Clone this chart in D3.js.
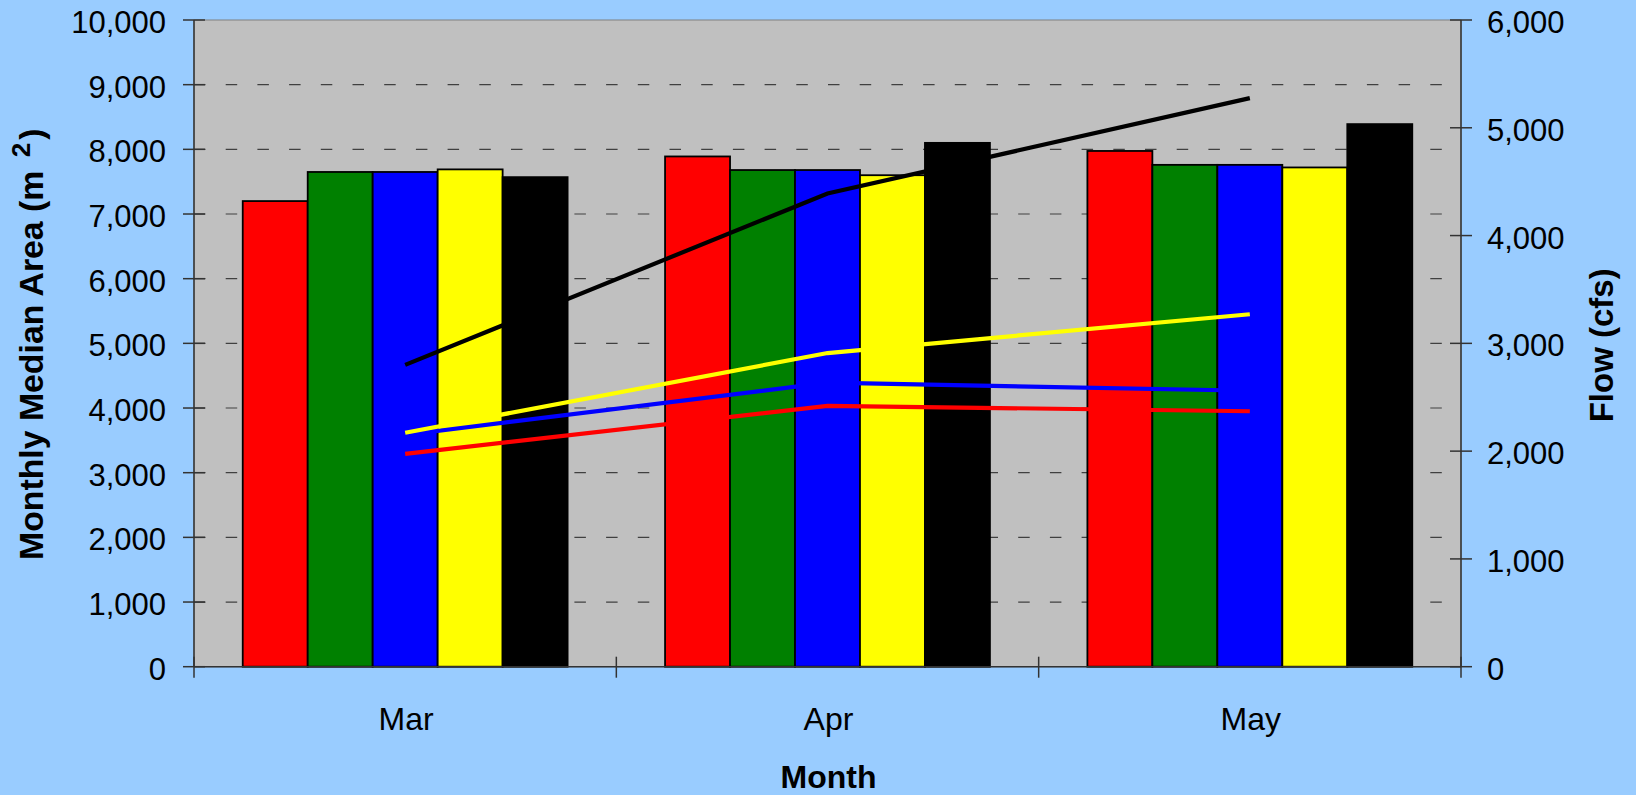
<!DOCTYPE html>
<html>
<head>
<meta charset="utf-8">
<script src="https://cdn.jsdelivr.net/npm/d3@7"></script>
<style>
  html, body { margin: 0; padding: 0; background: #99CCFF; }
  svg { display: block; }
  text { font-family: "Liberation Sans", Arial, sans-serif; fill: #000; }
</style>
</head>
<body>
<svg id="chart" width="1636" height="795"></svg>
<script>
// Months on the category axis
const months = ["Mar", "Apr", "May"];

// Monthly median area (m²), one array per scenario – drawn as bars
const areaRed    = [7200, 7890, 7975];
const areaGreen  = [7650, 7680, 7760];
const areaBlue   = [7650, 7680, 7760];
const areaYellow = [7690, 7600, 7720];
const areaBlack  = [7570, 8100, 8390];

// Flow (cfs) – drawn as lines on the secondary axis
const flowRed    = [1975, 2420, 2370];
const flowBlue   = [2150, 2635, 2560];
const flowYellow = [2170, 2910, 3270];
const flowBlack  = [2800, 4390, 5275];

// Axis ticks
const leftTicks  = [0, 1000, 2000, 3000, 4000, 5000, 6000, 7000, 8000, 9000, 10000];
const rightTicks = [0, 1000, 2000, 3000, 4000, 5000, 6000];

const barSeries = [
  { key: "s1", color: "#FF0000", values: areaRed },
  { key: "s2", color: "#008000", values: areaGreen },
  { key: "s3", color: "#0000FF", values: areaBlue },
  { key: "s4", color: "#FFFF00", values: areaYellow },
  { key: "s5", color: "#000000", values: areaBlack }
];
const lineSeries = [
  { key: "f1", color: "#FF0000", values: flowRed },
  { key: "f3", color: "#0000FF", values: flowBlue },
  { key: "f4", color: "#FFFF00", values: flowYellow },
  { key: "f5", color: "#000000", values: flowBlack }
];

const svg = d3.select("#chart");
const plot = { left: 194, right: 1461, top: 20, bottom: 666.7 };
const fmt = d3.format(",");

const x = d3.scaleBand().domain(months).range([plot.left, plot.right]).padding(0);
const xInner = d3.scaleBand().domain(barSeries.map(s => s.key))
  .range([0, x.bandwidth()]).paddingInner(0).paddingOuter(0.75);
const yLeft = d3.scaleLinear().domain([0, 10000]).range([plot.bottom, plot.top]);
const yRight = d3.scaleLinear().domain([0, 6000]).range([plot.bottom, plot.top]);

// Plot area
svg.append("rect")
  .attr("x", plot.left).attr("y", plot.top)
  .attr("width", plot.right - plot.left).attr("height", plot.bottom - plot.top)
  .attr("fill", "#C0C0C0").attr("stroke", "#808080").attr("stroke-width", 1);

// Dashed gridlines
svg.append("g").selectAll("line")
  .data(leftTicks.filter(t => t > 0 && t < 10000))
  .join("line")
  .attr("x1", plot.left).attr("x2", plot.right)
  .attr("y1", d => yLeft(d)).attr("y2", d => yLeft(d))
  .attr("stroke", "#404040").attr("stroke-width", 1.2)
  .attr("stroke-dasharray", "11.5,20.2");

// Bars
const groups = svg.append("g").selectAll("g")
  .data(barSeries).join("g");
groups.selectAll("rect")
  .data(s => s.values.map((v, i) => ({ key: s.key, color: s.color, month: months[i], v })))
  .join("rect")
  .attr("x", d => x(d.month) + xInner(d.key))
  .attr("y", d => yLeft(d.v))
  .attr("width", xInner.bandwidth())
  .attr("height", d => yLeft(0) - yLeft(d.v))
  .attr("fill", d => d.color)
  .attr("stroke", "#000").attr("stroke-width", 1.8);

// Flow lines
const line = d3.line()
  .x((d, i) => x(months[i]) + x.bandwidth() / 2)
  .y(d => yRight(d));
svg.append("g").selectAll("path")
  .data(lineSeries).join("path")
  .attr("d", s => line(s.values))
  .attr("fill", "none")
  .attr("stroke", s => s.color)
  .attr("stroke-width", 4.2)
  .attr("stroke-linejoin", "miter");

// Axes lines
const axisColor = "#333";
svg.append("line").attr("x1", plot.left).attr("x2", plot.right)
  .attr("y1", plot.bottom).attr("y2", plot.bottom)
  .attr("stroke", axisColor).attr("stroke-width", 1.5);
svg.append("line").attr("x1", plot.left).attr("x2", plot.left)
  .attr("y1", plot.top).attr("y2", plot.bottom)
  .attr("stroke", axisColor).attr("stroke-width", 1.5);
svg.append("line").attr("x1", plot.right).attr("x2", plot.right)
  .attr("y1", plot.top).attr("y2", plot.bottom)
  .attr("stroke", axisColor).attr("stroke-width", 1.5);

// Left axis ticks and labels
const gl = svg.append("g");
gl.selectAll("line").data(leftTicks).join("line")
  .attr("x1", plot.left - 11).attr("x2", plot.left + 11)
  .attr("y1", d => yLeft(d)).attr("y2", d => yLeft(d))
  .attr("stroke", axisColor).attr("stroke-width", 1.5);
gl.selectAll("text").data(leftTicks).join("text")
  .attr("x", 166).attr("y", d => yLeft(d) + 13)
  .attr("text-anchor", "end").attr("font-size", 31)
  .text(d => fmt(d));

// Right axis ticks and labels
const gr = svg.append("g");
gr.selectAll("line").data(rightTicks).join("line")
  .attr("x1", plot.right - 11).attr("x2", plot.right + 11)
  .attr("y1", d => yRight(d)).attr("y2", d => yRight(d))
  .attr("stroke", axisColor).attr("stroke-width", 1.5);
gr.selectAll("text").data(rightTicks).join("text")
  .attr("x", 1487).attr("y", d => yRight(d) + 13)
  .attr("text-anchor", "start").attr("font-size", 31)
  .text(d => fmt(d));

// Category ticks at band boundaries
const bounds = months.map(m => x(m)).concat([plot.right]);
svg.append("g").selectAll("line").data(bounds).join("line")
  .attr("x1", d => d).attr("x2", d => d)
  .attr("y1", plot.bottom - 10).attr("y2", plot.bottom + 11)
  .attr("stroke", axisColor).attr("stroke-width", 1.5);

// Category labels
svg.append("g").selectAll("text").data(months).join("text")
  .attr("x", d => x(d) + x.bandwidth() / 2 + 1)
  .attr("y", 730)
  .attr("text-anchor", "middle").attr("font-size", 32)
  .text(d => d);

// Axis titles
svg.append("text")
  .attr("x", plot.left + (plot.right - plot.left) / 2 + 1).attr("y", 788)
  .attr("text-anchor", "middle").attr("font-size", 32).attr("font-weight", "bold")
  .text("Month");

const leftTitle = svg.append("text")
  .attr("transform", "translate(43,560) rotate(-90)")
  .attr("text-anchor", "start").attr("font-size", 33.8).attr("font-weight", "bold");
leftTitle.append("tspan").text("Monthly Median Area (m ");
leftTitle.append("tspan").attr("dx", 4).attr("dy", -13).attr("font-size", 26).text("2");
leftTitle.append("tspan").attr("dx", 3).attr("dy", 13).text(")");

svg.append("text")
  .attr("transform", "translate(1613," + ((plot.top + plot.bottom) / 2 + 2) + ") rotate(-90)")
  .attr("text-anchor", "middle").attr("font-size", 33).attr("font-weight", "bold")
  .text("Flow (cfs)");
</script>
</body>
</html>
